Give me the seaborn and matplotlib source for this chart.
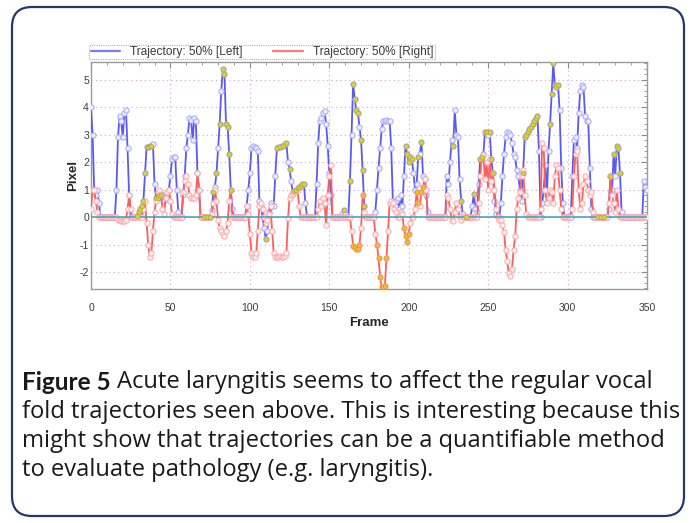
import numpy as np
import pandas as pd
import matplotlib
matplotlib.use("Agg")
import matplotlib.pyplot as plt
from matplotlib import font_manager
from matplotlib.patches import FancyBboxPatch
from matplotlib.lines import Line2D
from matplotlib.ticker import MultipleLocator
from matplotlib.transforms import IdentityTransform
import seaborn as sns

# Vocal fold trajectory (pixel displacement) per video frame
left = (
    [4.0, 3.0, 1.0, 0.8, 1.0, 0.5]                                   # 0-5
    + [0.0] * 10                                                     # 6-15
    + [1.0, 2.9, 3.7, 3.5, 2.9, 3.8, 3.9, 2.5, 0.8]                  # 16-24
    + [0.0] * 4                                                      # 25-28
    + [0.05, 0.2, 0.3, 0.4, 0.6, 1.6, 2.55, 2.55, 2.6, 2.6, 2.65, 1.2,
       0.7, 0.7, 0.8, 0.8, 0.8, 0.6, 0.7, 0.9, 1.0, 1.5, 2.1, 2.2, 2.2,
       1.0, 0.2]                                                     # 29-55
    + [0.0] * 2                                                      # 56-57
    + [0.8, 1.5, 2.5, 3.0, 3.6, 3.55, 2.8, 3.6, 3.5, 1.6, 1.0]       # 58-68
    + [0.0] * 7                                                      # 69-75
    + [0.25, 0.9, 1.1, 1.6, 2.5, 3.4, 4.6, 5.4, 5.2, 3.4, 3.3, 2.3,
       1.0, 0.3]                                                     # 76-89
    + [0.0] * 8                                                      # 90-97
    + [0.4, 1.0, 1.6, 2.5, 2.6, 2.55, 2.5, 2.4, 0.6, 0.4, 0.0, -0.4,
       -0.8, -0.5, 0.2, 0.5, 0.4, 0.4, 1.5, 2.5, 2.55, 2.55, 2.6, 2.6,
       2.65, 2.7, 2.0, 1.75, 1.3, 0.9, 0.95, 1.0, 1.05, 1.1, 1.15, 1.2,
       1.2, 0.5]                                                     # 98-135
    + [0.0] * 6                                                      # 136-141
    + [1.2, 2.7, 3.5, 3.6, 3.8, 3.85, 3.4, 2.6, 1.6, 0.8]            # 142-151
    + [0.0] * 6                                                      # 152-157
    + [0.1, 0.25, 0.1, 0.0, 0.0]                                     # 158-162
    + [1.3, 3.0, 4.85, 4.3, 3.9, 3.8, 3.3, 2.8, 1.7, 0.4]            # 163-172
    + [0.0] * 6                                                      # 173-178
    + [0.2, 1.0, 1.8, 2.5, 3.2, 3.5, 3.5, 3.55, 3.5, 3.5, 2.5, 0.6,
       0.55, 0.6, 0.7, 0.3, 0.8, 0.4, 1.5, 2.6, 2.3, 2.0, 2.2, 2.1,
       1.6, 1.0, 1.2, 2.2, 2.3, 2.75, 1.5, 1.4, 0.8, 0.2]            # 179-212
    + [0.0] * 11                                                     # 213-223
    + [1.5, 1.2, 2.0, 2.8, 2.6, 3.9, 3.0, 2.9, 1.4, 0.6, 0.1]        # 224-234
    + [0.0] * 5                                                      # 235-239
    + [0.4, 0.85, 0.3, 0.2, 1.2, 2.1, 2.2, 2.3, 3.1, 3.1, 3.0, 3.1,
       2.1, 1.6, 0.6, 0.1, 0.0, 0.0, 0.5, 1.5, 2.3, 2.9, 3.1, 3.05,
       3.0, 2.7, 2.3, 2.2, 1.7, 1.5, 1.0, 0.6, 1.6, 2.9, 3.0, 3.1,
       3.2, 3.3, 3.4, 3.5, 3.6, 3.7, 2.4, 0.0, 0.5, 1.0, 1.9, 0.8,
       2.4, 3.4, 4.5, 5.6, 4.8, 4.75, 4.8, 3.9, 1.8, 0.5]            # 240-297
    + [0.0] * 5                                                      # 298-302
    + [1.5, 2.8, 2.9, 2.5, 3.8, 4.6, 4.8, 4.75, 3.7, 3.5, 3.5, 1.8,
       0.3]                                                          # 303-315
    + [0.0] * 10                                                     # 316-325
    + [0.3, 1.5, 1.0, 2.3, 1.5, 2.6, 2.5, 1.6, 0.2]                  # 326-334
    + [0.0] * 13                                                     # 335-347
    + [1.3, 1.1, 1.0]                                                # 348-350
)

right = (
    [0.3, 1.0, 1.0, 0.6, 0.2]                                        # 0-4
    + [0.0] * 12                                                     # 5-16
    + [-0.1, -0.1, -0.15, -0.15, -0.15, -0.1, 0.3, 0.8, 0.3]         # 17-25
    + [0.0] * 7                                                      # 26-32
    + [0.3, 0.6, -0.2, -1.0, -1.45, -1.3, -0.5, 0.2, 0.6, 0.9, 1.0,
       0.8, 0.3, 0.1, 0.7, 0.9, 1.0, 0.6, 0.1]                       # 33-51
    + [0.0] * 6                                                      # 52-57
    + [0.9, 1.3, 1.5, 1.2, 0.8, 0.7, 0.7, 0.7, 0.8, 1.6, 1.0]        # 58-68
    + [0.0] * 7                                                      # 69-75
    + [0.1, 0.5, 1.0, 0.6, -0.1, -0.4, -0.5, -0.6, -0.7, -0.5, -0.2,
       0.6, 1.0]                                                     # 76-88
    + [0.0] * 9                                                      # 89-97
    + [0.4, 0.1, -0.6, -1.3, -1.45, -1.45, -1.3, -0.5, 0.4, 0.5, 0.3,
       0.0, -0.2, -0.1, 0.1, 0.4, -0.5, -1.3, -1.45, -1.45, -1.45,
       -1.4, -1.45, -1.45, -1.4, -1.3, -0.05, 0.7, 0.8, 0.85, 0.9,
       0.95, 1.0, 0.4]                                               # 98-131
    + [0.0] * 11                                                     # 132-142
    + [0.3, 0.6, 0.4, 0.7, 0.5, -0.3, 0.8, 1.5, 1.9]                 # 143-151
    + [0.0] * 12                                                     # 152-163
    + [-0.5, -1.05, -1.1, -1.15, -1.15, -1.0, -0.4, 0.8, 0.2]        # 164-172
    + [0.0] * 6                                                      # 173-178
    + [-0.6, -1.0, -1.5, -2.2, -2.55, -2.55, -2.5, -1.5, -0.5, 0.5,
       0.6, 0.5, 0.3, 0.2, 0.0, 0.0, 0.2, 0.1, -0.4, -0.7, -0.9, -0.6,
       -0.2, 0.0, 0.0, 0.3, 0.9, 0.5, 0.4, 0.9, 1.1, 1.4, 1.0]       # 179-211
    + [0.0] * 12                                                     # 212-223
    + [0.8, 0.7, 0.3, -0.1, -0.15, 0.2, 0.5, 0.3, 0.0, -0.1]         # 224-233
    + [0.0] * 10                                                     # 234-243
    + [0.5, 1.5, 2.2, 2.25, 1.4, 2.0, 1.0, 2.1, 1.3, 1.6, 1.0, 0.3,
       0.0, -0.1, -0.1, -0.3, -0.55, -1.2, -1.6, -2.05, -2.15, -1.9,
       -1.2, -0.7, 0.3, 0.7, 0.9, 1.5, 1.7, 0.8, 0.1]                # 244-274
    + [0.0] * 8                                                      # 275-282
    + [0.3, 2.7, 2.5, 1.0, 0.5, 0.7, 1.0, 0.9, 0.5, 1.5, 1.9, 1.8,
       1.0, 0.3]                                                     # 283-296
    + [0.0] * 6                                                      # 297-302
    + [0.3, 1.5, 2.3, 2.4, 1.0, 0.3, 0.5, 1.2, 1.5, 1.3, 1.0, 0.8,
       0.9, 0.2]                                                     # 303-316
    + [0.0] * 9                                                      # 317-325
    + [0.5, 1.5, 0.8, 0.5, 0.2, 1.0, 0.3]                            # 326-332
    + [0.0] * 18                                                     # 333-350
)

# Frames flagged on each trajectory
left_marked = [29, 30, 31, 32, 33, 34, 35, 36, 37, 38, 41, 42, 43, 44,
               71, 73, 75, 77, 79, 81, 83, 84, 85, 86, 87, 88, 110,
               117, 119, 121, 123, 125, 128, 129, 130, 131, 132, 133, 134,
               159, 163, 165, 166, 167, 168, 170, 171, 172,
               198, 199, 200, 201, 202, 206, 208, 228, 233, 236, 241,
               245, 246, 248, 249, 251, 252, 253,
               272, 273, 274, 275, 276, 277, 278, 279, 280, 281,
               289, 290, 291, 292, 293, 294, 319, 321, 323,
               327, 329, 331, 332, 333]
right_marked = [165, 166, 167, 168, 169, 171,
                180, 181, 182, 183, 184, 185, 186,
                197, 198, 199, 200, 205, 206, 208, 209]

legend_labels = ["Trajectory: 50% [Left]", "Trajectory: 50% [Right]"]
x_ticks = [0, 50, 100, 150, 200, 250, 300, 350]
y_ticks = [-2, -1, 0, 1, 2, 3, 4, 5]
caption_head = "Figure 5"
caption_lines = [
    "Acute laryngitis seems to affect the regular vocal",
    "fold trajectories seen above. This is interesting because this",
    "might show that trajectories can be a quantifiable method",
    "to evaluate pathology (e.g. laryngitis).",
]

sns.set_theme(style="white")
plt.rcParams["font.family"] = ["Liberation Sans", "DejaVu Sans"]
plt.rcParams["axes.unicode_minus"] = False

W, H = 691, 523
fig = plt.figure(figsize=(W / 100, H / 100), dpi=100)
fig.patch.set_facecolor("white")

# rounded frame around the whole panel
frame = FancyBboxPatch((12, H - 516), 672, 509,
                       boxstyle="round,pad=0,rounding_size=20",
                       transform=IdentityTransform(), fill=False,
                       edgecolor="#24386a", linewidth=1.6, zorder=0)
fig.patches.append(frame)

ax = fig.add_axes([91 / W, 1 - 289 / H, 556 / W, 227 / H])

df_left = pd.DataFrame({"Frame": np.arange(len(left)), "Pixel": left})
df_right = pd.DataFrame({"Frame": np.arange(len(right)), "Pixel": right})

sns.lineplot(data=df_left, x="Frame", y="Pixel", ax=ax, color="#5a5af2",
             linewidth=1.3, marker="o", markersize=3.8,
             markerfacecolor="#ededff", markeredgecolor="#a6a6ff",
             markeredgewidth=0.7, zorder=3)
sns.lineplot(data=df_right, x="Frame", y="Pixel", ax=ax, color="#ff5e5e",
             linewidth=1.3, marker="o", markersize=3.8,
             markerfacecolor="#fff0f0", markeredgecolor="#ffa6a6",
             markeredgewidth=0.7, zorder=4)

ax.axhline(0, color="#3c9fb8", linewidth=1.1, zorder=5)

lm = df_left[df_left["Frame"].isin(left_marked)]
rm = df_right[df_right["Frame"].isin(right_marked)]
sns.scatterplot(data=lm, x="Frame", y="Pixel", ax=ax, color="#d6d044",
                edgecolor="#b4ac36", linewidth=0.5, s=11, zorder=6)
sns.scatterplot(data=rm, x="Frame", y="Pixel", ax=ax, color="#f8b63a",
                edgecolor="#dc9a28", linewidth=0.5, s=11, zorder=6)

ax.set_xlim(0, 350)
ax.set_ylim(-2.62, 5.65)
ax.set_xticks(x_ticks)
ax.set_yticks(y_ticks)
ax.xaxis.set_minor_locator(MultipleLocator(10))
ax.yaxis.set_minor_locator(MultipleLocator(0.2))
ax.tick_params(which="both", direction="in", top=True, right=True,
               color="#8c8c8c", labelsize=7.5, labelcolor="#3a3a3a")
ax.tick_params(which="major", length=4, width=0.8)
ax.tick_params(which="minor", length=2, width=0.6)
ax.tick_params(axis="y", which="major", pad=1.5)
ax.tick_params(axis="x", which="major", pad=10)
ax.grid(True, which="major", linestyle=(0, (1, 3)), color="#d6a2d6",
        linewidth=0.8)
for sp in ax.spines.values():
    sp.set_color("#9a9a9a")
    sp.set_linewidth(1.0)

ax.set_xlabel("Frame", fontsize=9.5, fontweight="bold", labelpad=3)
ax.set_ylabel("Pixel", fontsize=9.5, fontweight="bold", labelpad=0)

handles = [Line2D([], [], color="#7b7bff", linewidth=1.6),
           Line2D([], [], color="#ff7b7b", linewidth=1.6)]
leg = ax.legend(handles, legend_labels, ncol=2, loc="lower left",
                bbox_to_anchor=(-0.003, 1.012), fontsize=8.6, frameon=True,
                fancybox=False, handlelength=2.5, handletextpad=0.8,
                columnspacing=2.6, borderpad=0.1, borderaxespad=0)
leg.get_frame().set_edgecolor("#9a9a9a")
leg.get_frame().set_linestyle((0, (1, 1)))
leg.get_frame().set_linewidth(0.8)
for t in leg.get_texts():
    t.set_color("#3a3a3a")

# caption: condensed bold head followed by the body text
installed = {f.name for f in font_manager.fontManager.ttflist}
head_family = "Liberation Sans Narrow" if "Liberation Sans Narrow" in installed else "Lato"
head_font = [head_family, "DejaVu Sans"]
body_font = ["Open Sans", "DejaVu Sans"]
x_left = 22
line_y = [382, 412, 441, 470]
renderer = fig.canvas.get_renderer()


def text_width(s, size, family, weight="normal"):
    t = fig.text(0, 0, s, fontsize=size, family=family, fontweight=weight)
    w = t.get_window_extent(renderer).width
    t.remove()
    return w


body_size = 15.0 * 658 / text_width(caption_lines[1], 15.0, body_font)
head_size = body_size * 1.02

bold = fig.text(x_left / W, 1 - line_y[0] / H, caption_head,
                fontsize=head_size, fontweight="bold", family=head_font,
                color="#1a1a1a", va="center", ha="left")
bb = bold.get_window_extent(renderer)
fig.text((bb.x1 + 6) / W, 1 - line_y[0] / H, caption_lines[0],
         fontsize=body_size, family=body_font, color="#1a1a1a",
         va="center", ha="left")
for line, yy in zip(caption_lines[1:], line_y[1:]):
    fig.text(x_left / W, 1 - yy / H, line, fontsize=body_size,
             family=body_font, color="#1a1a1a", va="center", ha="left")

fig.savefig("out.png", dpi=100, facecolor="white")
